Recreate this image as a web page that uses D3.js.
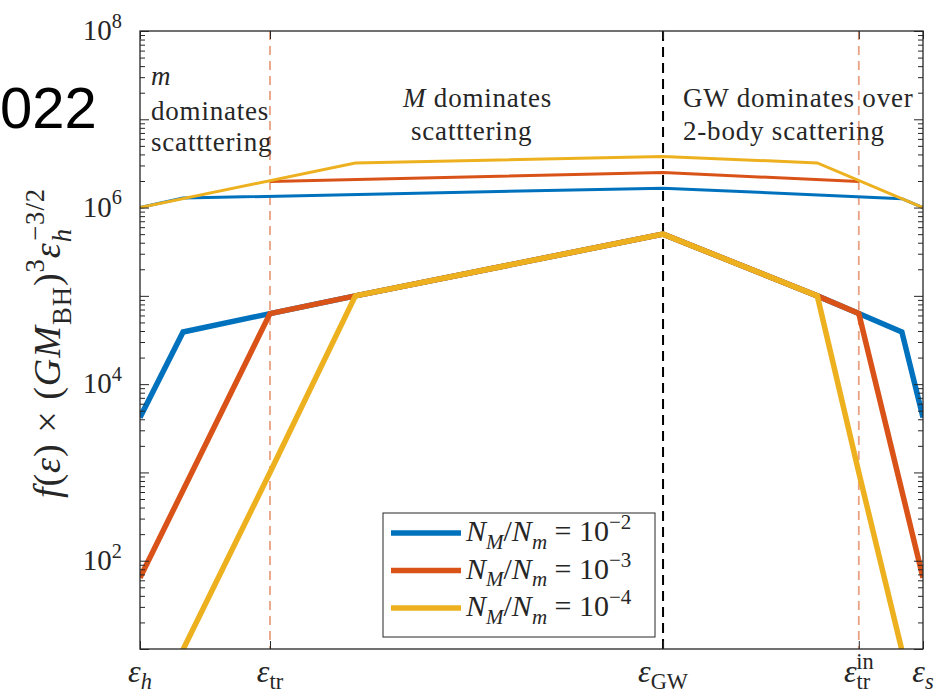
<!DOCTYPE html>
<html>
<head>
<meta charset="utf-8">
<script src="https://cdn.jsdelivr.net/npm/d3@7"></script>
<style>
  html, body { margin: 0; padding: 0; background: #fff; }
  svg { display: block; }
  .serif { font-family: "Liberation Serif", "Times New Roman", serif; fill: #262626; }
</style>
</head>
<body>
<svg id="chart" width="946" height="699"></svg>
<script>
// Horizontal coordinate: position along the (logarithmic) energy axis, 0 = ε_h, 100 = ε_s
const xTickValues = [0, 16.6, 66.8, 91.8, 100];
const xTickLabels = [
  { sub: "h" },
  { sub: "tr" },
  { sub: "GW" },
  { sub: "tr", sup: "in" },
  { sub: "s" }
];
const yTickExponents = [2, 4, 6, 8];

// N_M/N_m = 1e-2 (blue)
const blueLowerX = [0, 5.5, 16.6, 27.5, 66.8, 86.5, 91.8, 97.3, 100];
const blueLowerY = [4200, 3.9e4, 6.3e4, 1.0e5, 5.0e5, 1.0e5, 6.3e4, 3.9e4, 4200];
const blueUpperX = [0, 5.5, 66.8, 97.3, 100];
const blueUpperY = [1.0e6, 1.28e6, 1.66e6, 1.26e6, 1.0e6];

// N_M/N_m = 1e-3 (red)
const redLowerX = [0, 16.6, 27.5, 66.8, 86.5, 91.8, 100];
const redLowerY = [64, 6.3e4, 1.0e5, 5.0e5, 1.0e5, 6.3e4, 64];
const redUpperX = [16.6, 66.8, 91.8];
const redUpperY = [1.97e6, 2.5e6, 1.97e6];

// N_M/N_m = 1e-4 (yellow)
const yellowLowerX = [0, 16.6, 27.5, 66.8, 86.5, 91.8, 100];
const yellowLowerY = [1, 1000, 1.0e5, 5.0e5, 1.0e5, 1000, 1];
const yellowUpperX = [0, 27.5, 66.8, 86.5, 100];
const yellowUpperY = [1.0e6, 3.2e6, 3.8e6, 3.2e6, 1.0e6];

const legendExponents = ["2", "3", "4"];
const seriesColors = ["#0072BD", "#D95319", "#EDB120"];

const series = [
  { color: seriesColors[0], lowX: blueLowerX, lowY: blueLowerY, upX: blueUpperX, upY: blueUpperY },
  { color: seriesColors[1], lowX: redLowerX, lowY: redLowerY, upX: redUpperX, upY: redUpperY },
  { color: seriesColors[2], lowX: yellowLowerX, lowY: yellowLowerY, upX: yellowUpperX, upY: yellowUpperY }
];

const svg = d3.select("#chart");
const plot = { left: 140, right: 923, top: 31, bottom: 649 };

const x = d3.scaleLinear().domain([0, 100]).range([plot.left, plot.right]);
const y = d3.scaleLog().domain([10, 1e8]).range([plot.bottom, plot.top]);

// Fragment of text sitting at the upper-left corner of the canvas
svg.append("text")
  .attr("x", 0).attr("y", 128)
  .attr("font-family", "'Liberation Sans', Arial, sans-serif")
  .attr("font-size", 58)
  .attr("fill", "#000")
  .text("022");

// rich text helper: parts with optional italic / sub / sup / dx
function rich(sel, parts, size, subK = 0.3, supK = 0.42) {
  let cur = 0;
  parts.forEach(p => {
    const target = p.s === "sub" ? size * subK : p.s === "sup" ? -size * supK : 0;
    const ts = sel.append("tspan").text(p.t).attr("dy", target - cur);
    cur = target;
    if (p.s) ts.attr("font-size", size * 0.7);
    if (p.i) ts.attr("font-style", "italic");
    if (p.dx) ts.attr("dx", p.dx);
  });
}

svg.append("defs").append("clipPath").attr("id", "plotClip")
  .append("rect")
  .attr("x", plot.left).attr("y", plot.top)
  .attr("width", plot.right - plot.left).attr("height", plot.bottom - plot.top);

// Region annotations
const annFont = 27;
function annot(xp, yp, parts) {
  const t = svg.append("text").attr("class", "serif")
    .attr("x", xp).attr("y", yp)
    .attr("font-size", annFont)
    .attr("letter-spacing", 0.8);
  rich(t, parts, annFont);
}
annot(151, 85, [{ t: "m", i: true }]);
annot(151, 120, [{ t: "dominates" }]);
annot(151, 151, [{ t: "scatttering" }]);
annot(403, 107, [{ t: "M", i: true }, { t: " dominates" }]);
annot(411, 140, [{ t: "scatttering" }]);
annot(683, 107, [{ t: "GW dominates over" }]);
annot(683, 140, [{ t: "2-body scattering" }]);

// Vertical markers at the characteristic energies
const markers = [
  { v: xTickValues[1], color: "#D95319", op: 0.55, w: 1.8, dash: "9,6" },
  { v: xTickValues[3], color: "#D95319", op: 0.55, w: 1.8, dash: "9,6" },
  { v: xTickValues[2], color: "#000", op: 1, w: 2, dash: "10,6" }
];
svg.append("g").selectAll("line").data(markers).join("line")
  .attr("x1", d => x(d.v)).attr("x2", d => x(d.v))
  .attr("y1", plot.top).attr("y2", plot.bottom)
  .attr("stroke", d => d.color)
  .attr("stroke-opacity", d => d.op)
  .attr("stroke-width", d => d.w)
  .attr("stroke-dasharray", d => d.dash);

// Curves
const line = d3.line().x(d => x(d[0])).y(d => y(d[1]));
const curves = svg.append("g").attr("clip-path", "url(#plotClip)");
series.forEach(s => {
  curves.append("path")
    .datum(d3.zip(s.lowX, s.lowY))
    .attr("d", line)
    .attr("fill", "none").attr("stroke", s.color)
    .attr("stroke-width", 5.5).attr("stroke-linejoin", "miter");
  curves.append("path")
    .datum(d3.zip(s.upX, s.upY))
    .attr("d", line)
    .attr("fill", "none").attr("stroke", s.color)
    .attr("stroke-width", 3).attr("stroke-linejoin", "miter");
});

// Axes (inward ticks on all four sides)
const axisColor = "#262626";
const minorVals = [];
for (let e = 1; e < 8; e++) for (let m = 2; m <= 9; m++) minorVals.push(m * Math.pow(10, e));
const majorVals = d3.range(1, 9).map(e => Math.pow(10, e));

function styleAxis(g) {
  g.select(".domain").remove();
  g.selectAll("line").attr("stroke", axisColor).attr("stroke-width", 1);
}
svg.append("g").attr("transform", `translate(${plot.left},0)`)
  .call(d3.axisLeft(y).tickValues(minorVals).tickSize(-5).tickFormat("")).call(styleAxis);
svg.append("g").attr("transform", `translate(${plot.left},0)`)
  .call(d3.axisLeft(y).tickValues(majorVals).tickSize(-9).tickFormat("")).call(styleAxis);
svg.append("g").attr("transform", `translate(${plot.right},0)`)
  .call(d3.axisRight(y).tickValues(minorVals).tickSize(-5).tickFormat("")).call(styleAxis);
svg.append("g").attr("transform", `translate(${plot.right},0)`)
  .call(d3.axisRight(y).tickValues(majorVals).tickSize(-9).tickFormat("")).call(styleAxis);
svg.append("g").attr("transform", `translate(0,${plot.bottom})`)
  .call(d3.axisBottom(x).tickValues(xTickValues).tickSize(-8).tickFormat("")).call(styleAxis);
svg.append("g").attr("transform", `translate(0,${plot.top})`)
  .call(d3.axisTop(x).tickValues(xTickValues).tickSize(-8).tickFormat("")).call(styleAxis);

svg.append("rect")
  .attr("x", plot.left).attr("y", plot.top)
  .attr("width", plot.right - plot.left).attr("height", plot.bottom - plot.top)
  .attr("fill", "none").attr("stroke", axisColor).attr("stroke-width", 1.3);

// Y tick labels 10^k
const yFont = 29;
yTickExponents.forEach(e => {
  const t = svg.append("text").attr("class", "serif")
    .attr("x", 122).attr("y", y(Math.pow(10, e)) + 9)
    .attr("text-anchor", "end")
    .attr("font-size", yFont);
  rich(t, [{ t: "10" }, { t: String(e), s: "sup" }], yFont);
});

// X tick labels ε_*
const xFont = 32;
xTickValues.forEach((v, i) => {
  const lab = xTickLabels[i];
  const t = svg.append("text").attr("class", "serif")
    .attr("x", x(v)).attr("y", 682)
    .attr("text-anchor", "middle")
    .attr("font-size", xFont);
  const parts = [{ t: "ε", i: true }, { t: lab.sub, s: "sub", i: lab.sub.length === 1 }];
  if (lab.sup) parts.push({ t: lab.sup, s: "sup", dx: -14 });
  rich(t, parts, xFont, 0.22, 0.4);
});

// Y axis title
const labFont = 38;
const yl = svg.append("text").attr("class", "serif")
  .attr("transform", `translate(60,${(173 + 513) / 2}) rotate(-90)`)
  .attr("text-anchor", "middle")
  .attr("font-size", labFont)
  .attr("letter-spacing", 1);
rich(yl, [
  { t: "f", i: true }, { t: "(" }, { t: "ε", i: true }, { t: ") × (" },
  { t: "GM", i: true }, { t: "BH", s: "sub" }, { t: ")" }, { t: "3", s: "sup" },
  { t: "ε", i: true }, { t: "h", s: "sub", i: true }, { t: "−3/2", s: "sup", dx: -13 }
], labFont);

// Legend
const legFont = 30;
const leg = svg.append("g");
leg.append("rect")
  .attr("x", 383).attr("y", 513).attr("width", 272).attr("height", 124)
  .attr("fill", "#fff").attr("stroke", axisColor).attr("stroke-width", 1);
legendExponents.forEach((e, i) => {
  const cy = 533 + i * 37.5;
  leg.append("line")
    .attr("x1", 391).attr("x2", 461).attr("y1", cy).attr("y2", cy)
    .attr("stroke", seriesColors[i]).attr("stroke-width", 5.5);
  const t = leg.append("text").attr("class", "serif")
    .attr("x", 466).attr("y", cy + 8)
    .attr("font-size", legFont);
  rich(t, [
    { t: "N", i: true }, { t: "M", s: "sub", i: true }, { t: "/" },
    { t: "N", i: true }, { t: "m", s: "sub", i: true }, { t: " = 10" },
    { t: "−" + e, s: "sup" }
  ], legFont, 0.25, 0.4);
});
</script>
</body>
</html>
